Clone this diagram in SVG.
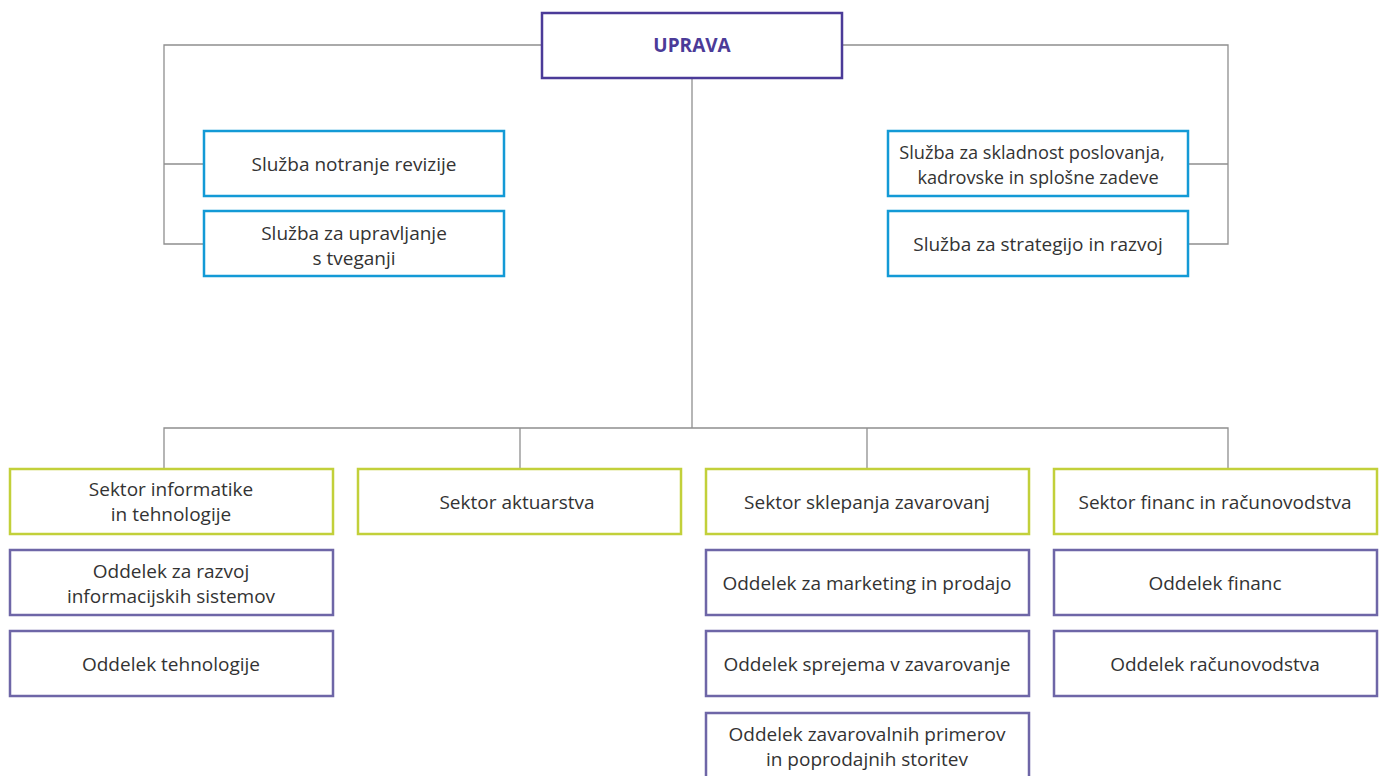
<svg xmlns="http://www.w3.org/2000/svg" width="1381" height="776" viewBox="0 0 1381 776">
<style>
rect{fill:#fff;stroke-width:2.5}
.top{stroke:#4b3b98}
.svc{stroke:#139ad6}
.sec{stroke:#c2d03a}
.dep{stroke:#6e66a7}
text{font-family:"Open Sans","Liberation Sans",sans-serif;font-size:19px;fill:#333;text-anchor:middle}
.tt{font-weight:bold;fill:#4b3b98;font-size:19px}
.n{font-size:18.2px}
#connectors path{fill:none;stroke:#8f8f8f;stroke-width:1.3}
</style>
<rect x="0" y="0" width="1381" height="776" style="fill:#fff;stroke:none"/>
<g id="connectors">
<path d="M541,45H164V244H203M164,164H203"/>
<path d="M843,45H1228V244H1189M1228,164H1189"/>
<path d="M692,79V428"/>
<path d="M164,468V428H1228V468M520,428V468M867,428V468"/>
</g>
<g id="uprava"><rect class="top" x="542" y="13" width="300" height="65"/><text class="tt" x="692" y="52">UPRAVA</text></g>
<g id="sl-revizija"><rect class="svc" x="204" y="131" width="300" height="65"/><text x="354" y="171">Služba notranje revizije</text></g>
<g id="sl-tveganja"><rect class="svc" x="204" y="211" width="300" height="65"/><text x="354" y="239.5">Služba za upravljanje</text><text x="354" y="264.5">s tveganji</text></g>
<g id="sl-skladnost"><rect class="svc" x="888" y="131" width="300" height="65"/><text class="n" x="1032" y="158.5">Služba za skladnost poslovanja,</text><text class="n" x="1038" y="183.5">kadrovske in splošne zadeve</text></g>
<g id="sl-strategija"><rect class="svc" x="888" y="211" width="300" height="65"/><text x="1038" y="251">Služba za strategijo in razvoj</text></g>
<g id="sek-informatika"><rect class="sec" x="10" y="469" width="323" height="65"/><text x="171" y="495.5">Sektor informatike</text><text x="171" y="520.5">in tehnologije</text></g>
<g id="sek-aktuarstvo"><rect class="sec" x="358" y="469" width="323" height="65"/><text x="517" y="509">Sektor aktuarstva</text></g>
<g id="sek-sklepanje"><rect class="sec" x="706" y="469" width="323" height="65"/><text x="867" y="509">Sektor sklepanja zavarovanj</text></g>
<g id="sek-finance"><rect class="sec" x="1054" y="469" width="323" height="65"/><text x="1215" y="509">Sektor financ in računovodstva</text></g>
<g id="odd-razvoj-is"><rect class="dep" x="10" y="550" width="323" height="65"/><text x="171" y="577.5">Oddelek za razvoj</text><text x="171" y="602.5">informacijskih sistemov</text></g>
<g id="odd-tehnologija"><rect class="dep" x="10" y="631" width="323" height="65"/><text x="171" y="671">Oddelek tehnologije</text></g>
<g id="odd-marketing"><rect class="dep" x="706" y="550" width="323" height="65"/><text x="867" y="590">Oddelek za marketing in prodajo</text></g>
<g id="odd-sprejem"><rect class="dep" x="706" y="631" width="323" height="65"/><text x="867" y="671">Oddelek sprejema v zavarovanje</text></g>
<g id="odd-primeri"><rect class="dep" x="706" y="713" width="323" height="80"/><text x="867" y="740.5">Oddelek zavarovalnih primerov</text><text x="867" y="765.5">in poprodajnih storitev</text></g>
<g id="odd-finance"><rect class="dep" x="1054" y="550" width="323" height="65"/><text x="1215" y="590">Oddelek financ</text></g>
<g id="odd-racunovodstvo"><rect class="dep" x="1054" y="631" width="323" height="65"/><text x="1215" y="671">Oddelek računovodstva</text></g>
</svg>
